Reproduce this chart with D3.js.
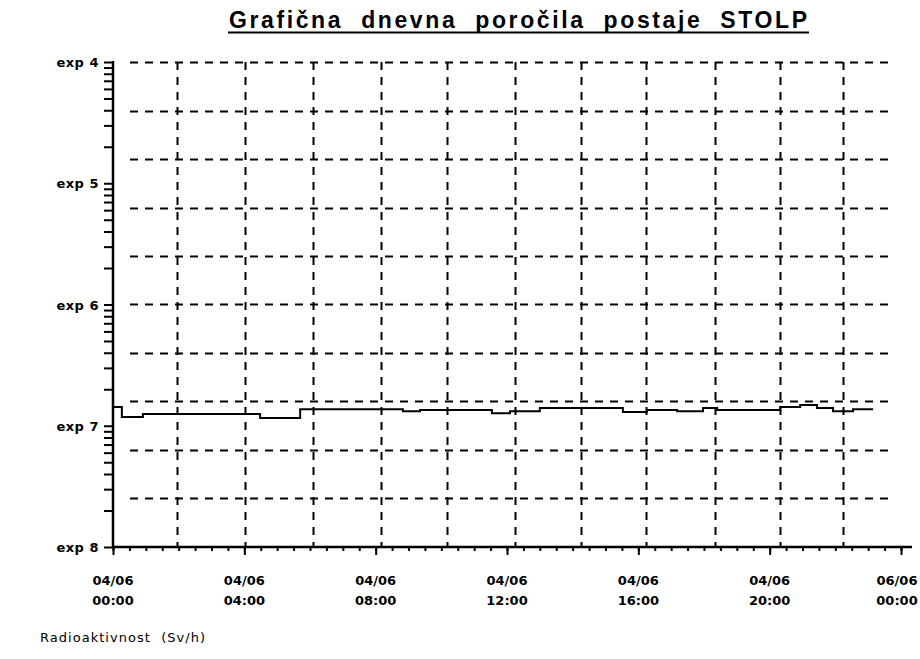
<!DOCTYPE html>
<html>
<head>
<meta charset="utf-8">
<script src="https://cdn.jsdelivr.net/npm/d3@7"></script>
<style>
  body { margin: 0; background: #fff; }
  svg { display: block; }
  text { fill: #000; }
</style>
</head>
<body>
<div id="chart"></div>
<script>
  // data: hours since 04/06 00:00, dose rate in Sv/h
  var timeHours = [0, 0.27, 0.91, 4.48, 5.7, 8.83, 9.35, 11.54, 12.09, 13.0, 15.53,
    16.26, 17.18, 17.97, 18.4, 20.32, 20.93, 21.44, 21.93, 22.54, 23.15];
  var doseRate = [1.43e-7, 1.18e-7, 1.25e-7, 1.16e-7, 1.37e-7, 1.32e-7, 1.35e-7, 1.27e-7,
    1.32e-7, 1.40e-7, 1.30e-7, 1.35e-7, 1.32e-7, 1.40e-7, 1.35e-7, 1.43e-7, 1.48e-7,
    1.40e-7, 1.32e-7, 1.37e-7, 1.37e-7];

  var xTickHours = [0, 4, 8, 12, 16, 20, 24];
  var xTickDates = ['04/06', '04/06', '04/06', '04/06', '04/06', '04/06', '06/06'];
  var xTickTimes = ['00:00', '04:00', '08:00', '12:00', '16:00', '20:00', '00:00'];
  var yDecades = [1e-4, 1e-5, 1e-6, 1e-7, 1e-8];
  var yDecadeLabels = ['exp 4', 'exp 5', 'exp 6', 'exp 7', 'exp 8'];
  // dashed grid, as placed on the original plot
  var gridHours = [1.95, 4.02, 6.09, 8.16, 10.17, 12.24, 14.25, 16.23, 18.33, 20.31, 22.23];
  var gridExponents = [-4, -4.4, -4.8, -5.2, -5.6, -6, -6.4, -6.8, -7.2, -7.6];

  var titleText = 'Grafična  dnevna  poročila  postaje  STOLP';
  var unitText = 'Radioaktivnost  (Sv/h)';

  (function () {
    'use strict';
    var w = 920;
    var h = 659;
    var left = 113;
    var right = 901;
    var plotTop = 62;
    var bottom = 547;
    var frameRight = 912;
    var labelFont = '"DejaVu Sans", sans-serif';

    var x = d3.scaleLinear().domain([0, 24]).range([left, right]);
    var y = d3.scaleLog().domain([1e-8, 1e-4]).range([bottom, plotTop]);

    var svg = d3.select('#chart')
      .append('svg')
      .attr('width', w)
      .attr('height', h)
      .attr('viewBox', '0 0 ' + w + ' ' + h);

    // title
    svg.append('text')
      .attr('x', 229)
      .attr('y', 28)
      .attr('textLength', 578)
      .attr('lengthAdjust', 'spacing')
      .style('font-family', '"Liberation Sans", Arial, sans-serif')
      .style('font-weight', 'bold')
      .style('font-size', '23px')
      .style('white-space', 'pre')
      .text(titleText);
    svg.append('line')
      .attr('x1', 228).attr('x2', 809)
      .attr('y1', 32.5).attr('y2', 32.5)
      .attr('stroke', '#000').attr('stroke-width', 2);

    // grid
    svg.append('g').selectAll('line')
      .data(gridExponents).enter()
      .append('line')
      .attr('x1', 130).attr('x2', 890)
      .attr('y1', function (d) { return Math.round(y(Math.pow(10, d))) + 0.5; })
      .attr('y2', function (d) { return Math.round(y(Math.pow(10, d))) + 0.5; })
      .attr('stroke', '#000').attr('stroke-width', 2)
      .attr('stroke-dasharray', '8,7');
    svg.append('g').selectAll('line')
      .data(gridHours).enter()
      .append('line')
      .attr('x1', function (d) { return Math.round(x(d)) + 0.5; })
      .attr('x2', function (d) { return Math.round(x(d)) + 0.5; })
      .attr('y1', plotTop).attr('y2', bottom)
      .attr('stroke', '#000').attr('stroke-width', 2)
      .attr('stroke-dasharray', '8,7');

    // y axis: log ticks 1..9 in every decade
    var yAxis = d3.axisLeft(y)
      .tickValues(y.ticks(10))
      .tickSize(9)
      .tickFormat('');
    var yg = svg.append('g')
      .attr('transform', 'translate(' + left + ',0)')
      .call(yAxis);
    yg.select('.domain').remove();
    yg.selectAll('line').attr('stroke', '#000').attr('stroke-width', 2);
    svg.append('line')
      .attr('x1', left).attr('x2', left)
      .attr('y1', plotTop - 1).attr('y2', bottom + 1)
      .attr('stroke', '#000').attr('stroke-width', 2.5);

    svg.append('g').selectAll('text')
      .data(yDecades).enter()
      .append('text')
      .attr('x', 99)
      .attr('y', function (d) { return y(d) + 5; })
      .attr('text-anchor', 'end')
      .style('font-family', labelFont)
      .style('font-weight', 'bold')
      .style('font-size', '13px')
      .style('letter-spacing', '0.5px')
      .text(function (d, i) { return yDecadeLabels[i]; });

    // x axis
    var xMinor = d3.axisBottom(x)
      .tickValues(d3.range(0, 24.01, 0.5))
      .tickSize(4)
      .tickFormat('');
    var xMajor = d3.axisBottom(x)
      .tickValues(xTickHours)
      .tickSize(8)
      .tickFormat('');
    var xg1 = svg.append('g').attr('transform', 'translate(0,' + bottom + ')').call(xMinor);
    var xg2 = svg.append('g').attr('transform', 'translate(0,' + bottom + ')').call(xMajor);
    xg1.select('.domain').remove();
    xg2.select('.domain').remove();
    svg.selectAll('.tick line').attr('stroke', '#000').attr('stroke-width', 2);
    svg.append('line')
      .attr('x1', left).attr('x2', frameRight)
      .attr('y1', bottom).attr('y2', bottom)
      .attr('stroke', '#000').attr('stroke-width', 2.5);

    // labels under the major ticks, the last one kept inside the page
    var xLabels = svg.append('g').selectAll('g')
      .data(xTickHours).enter()
      .append('g')
      .attr('transform', function (d) { return 'translate(' + Math.min(x(d), w - 23) + ',0)'; });
    xLabels.append('text')
      .attr('y', 585)
      .attr('text-anchor', 'middle')
      .style('font-family', labelFont)
      .style('font-weight', 'bold')
      .style('font-size', '13px')
      .text(function (d, i) { return xTickDates[i]; });
    xLabels.append('text')
      .attr('y', 605)
      .attr('text-anchor', 'middle')
      .style('font-family', labelFont)
      .style('font-weight', 'bold')
      .style('font-size', '13px')
      .text(function (d, i) { return xTickTimes[i]; });

    // the measured series
    var series = timeHours.map(function (t, i) { return [t, doseRate[i]]; });
    svg.append('path')
      .datum(series)
      .attr('fill', 'none')
      .attr('stroke', '#000')
      .attr('stroke-width', 2)
      .attr('d', d3.line()
        .curve(d3.curveStepAfter)
        .x(function (d) { return x(d[0]); })
        .y(function (d) { return y(d[1]); }));

    // unit caption
    svg.append('text')
      .attr('x', 40)
      .attr('y', 642)
      .attr('textLength', 165)
      .attr('lengthAdjust', 'spacing')
      .style('font-family', labelFont)
      .style('font-size', '13px')
      .style('white-space', 'pre')
      .text(unitText);
  })();
</script>
</body>
</html>
